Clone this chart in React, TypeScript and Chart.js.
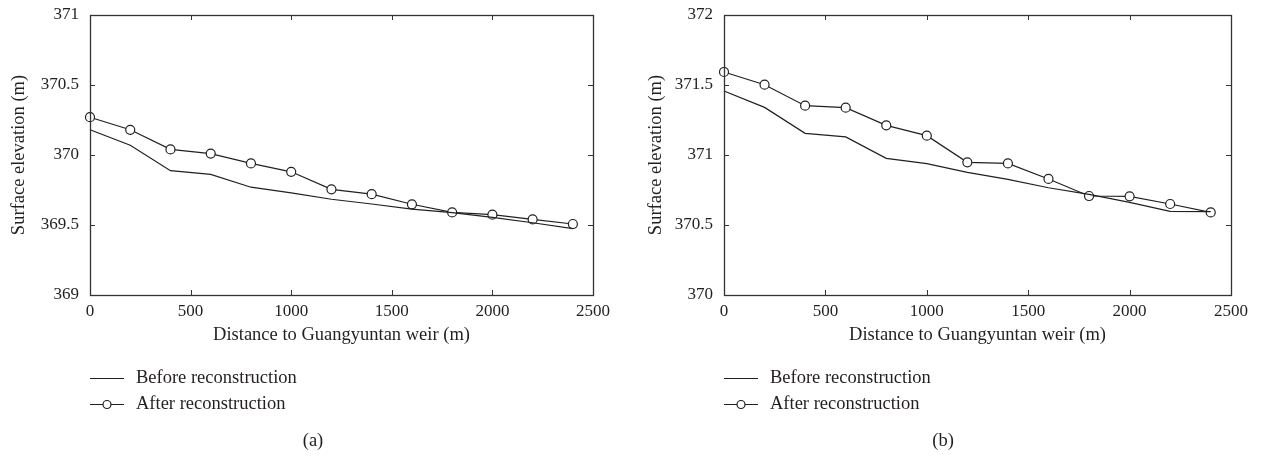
import React, { useEffect, useRef } from "react";
import { Chart, registerables } from "chart.js";

Chart.register(...registerables);

const distances = [0, 200, 400, 600, 800, 1000, 1200, 1400, 1600, 1800, 2000, 2200, 2400];

const beforeA = [370.18, 370.07, 369.888, 369.862, 369.77, 369.73, 369.684, 369.65, 369.614, 369.588, 369.555, 369.516, 369.474];
const afterA = [370.27, 370.18, 370.04, 370.01, 369.94, 369.88, 369.755, 369.72, 369.648, 369.59, 369.574, 369.54, 369.507];

const beforeB = [371.457, 371.34, 371.155, 371.129, 370.976, 370.938, 370.876, 370.826, 370.766, 370.719, 370.662, 370.598, 370.595];
const afterB = [371.593, 371.502, 371.352, 371.338, 371.212, 371.138, 370.948, 370.94, 370.829, 370.707, 370.705, 370.65, 370.59];

const xTicks = [0, 500, 1000, 1500, 2000, 2500];
const yTicksA = [369, 369.5, 370, 370.5, 371];
const yTicksB = [370, 370.5, 371, 371.5, 372];

const seriesLabels = ["Before reconstruction", "After reconstruction"];
const xTitle = "Distance to Guangyuntan weir (m)";
const yTitle = "Surface elevation (m)";

const INK = "#231f20";
const FONT = "'Liberation Serif', 'Times New Roman', serif";

const framePlugin = {
  id: "frame",
  afterDatasetsDraw(chart: any) {
    const { ctx, chartArea } = chart;
    const { left, right, top, bottom } = chartArea;
    const xs = chart.scales.x;
    const ys = chart.scales.y;
    const tl = 5;
    ctx.save();
    ctx.strokeStyle = "#333";
    ctx.lineWidth = 1;
    ctx.beginPath();
    xs.ticks.forEach((t: any) => {
      const px = Math.round(xs.getPixelForValue(t.value)) + 0.5;
      ctx.moveTo(px, bottom);
      ctx.lineTo(px, bottom - tl);
      ctx.moveTo(px, top);
      ctx.lineTo(px, top + tl);
    });
    ys.ticks.forEach((t: any) => {
      const py = Math.round(ys.getPixelForValue(t.value)) + 0.5;
      ctx.moveTo(left, py);
      ctx.lineTo(left + tl, py);
      ctx.moveTo(right, py);
      ctx.lineTo(right - tl, py);
    });
    ctx.stroke();
    ctx.lineWidth = 1.3;
    ctx.strokeRect(left + 0.5, top + 0.5, right - left, bottom - top);
    ctx.restore();
  },
  afterDraw(chart: any, _args: any, opts: any) {
    const { ctx } = chart;
    ctx.save();
    ctx.font = `18.5px ${FONT}`;
    ctx.fillStyle = INK;
    ctx.textBaseline = "middle";
    ctx.textAlign = "left";
    const ds = chart.data.datasets;
    ds.forEach((d: any, i: number) => {
      const y = opts.rowY[i];
      ctx.strokeStyle = d.borderColor;
      ctx.lineWidth = 1.2;
      ctx.beginPath();
      ctx.moveTo(opts.x0, y + 0.5);
      ctx.lineTo(opts.x0 + 34, y + 0.5);
      ctx.stroke();
      if (d.pointRadius > 0) {
        ctx.beginPath();
        ctx.fillStyle = "#fff";
        ctx.arc(opts.x0 + 17, y + 0.5, 4, 0, Math.PI * 2);
        ctx.fill();
        ctx.stroke();
        ctx.fillStyle = INK;
      }
      ctx.fillText(d.label, opts.x0 + 46, y);
    });
    ctx.textAlign = "center";
    ctx.fillText(opts.caption, opts.captionX, opts.captionY);
    ctx.restore();
  },
};

function makeConfig(before: number[], after: number[], yTicks: number[], yWidth: number, padRight: number, yTitlePad: number, legendX: number, caption: string): any {
  return {
    type: "line",
    data: {
      datasets: [
        {
          label: seriesLabels[0],
          data: distances.map((d, i) => ({ x: d, y: before[i] })),
          borderColor: INK,
          borderWidth: 1.2,
          pointRadius: 0,
          fill: false,
          tension: 0,
          clip: false,
        },
        {
          label: seriesLabels[1],
          data: distances.map((d, i) => ({ x: d, y: after[i] })),
          borderColor: INK,
          borderWidth: 1.2,
          pointRadius: 4.5,
          pointBorderWidth: 1.2,
          pointBackgroundColor: "#fff",
          pointBorderColor: INK,
          pointStyle: "circle",
          fill: false,
          tension: 0,
          clip: false,
        },
      ],
    },
    options: {
      animation: false,
      responsive: false,
      events: [],
      layout: { padding: { left: 0, right: padRight, top: 15, bottom: 0 } },
      plugins: {
        legend: { display: false },
        tooltip: { enabled: false },
        frame: { x0: legendX, rowY: [378, 404], caption, captionX: 313, captionY: 441 },
      },
      scales: {
        x: {
          type: "linear",
          min: xTicks[0],
          max: xTicks[xTicks.length - 1],
          afterBuildTicks: (s: any) => {
            s.ticks = xTicks.map((v) => ({ value: v }));
          },
          afterFit: (s: any) => {
            s.height = 163;
            s.paddingLeft = 0;
            s.paddingRight = 0;
          },
          grid: { display: false, drawTicks: false },
          border: { display: false },
          ticks: {
            color: INK,
            font: { family: FONT, size: 17 },
            padding: 6,
            maxRotation: 0,
            callback: (v: any) => String(v),
          },
          title: {
            display: true,
            text: xTitle,
            color: INK,
            font: { family: FONT, size: 18.5 },
            padding: { top: 0, bottom: 112 },
          },
        },
        y: {
          type: "linear",
          min: yTicks[0],
          max: yTicks[yTicks.length - 1],
          afterBuildTicks: (s: any) => {
            s.ticks = yTicks.map((v) => ({ value: v }));
          },
          afterFit: (s: any) => {
            s.width = yWidth;
            s.paddingTop = 0;
            s.paddingBottom = 0;
          },
          grid: { display: false, drawTicks: false },
          border: { display: false },
          ticks: {
            color: INK,
            font: { family: FONT, size: 17 },
            padding: 11,
            callback: (v: any) => String(v),
          },
          title: {
            display: true,
            text: yTitle,
            color: INK,
            font: { family: FONT, size: 18.5 },
            padding: { top: yTitlePad, bottom: 0 },
          },
        },
      },
    },
    plugins: [framePlugin],
  };
}

function Panel(props: { config: any; width: number; left: number }) {
  const ref = useRef<HTMLCanvasElement | null>(null);
  useEffect(() => {
    if (!ref.current) return;
    const chart = new Chart(ref.current, props.config);
    return () => chart.destroy();
  }, []);
  return (
    <canvas
      ref={ref}
      width={props.width}
      height={458}
      style={{ position: "absolute", left: props.left, top: 0, width: props.width, height: 458 }}
    />
  );
}

export default function App() {
  const cfgA = makeConfig(beforeA, afterA, yTicksA, 90, 37, 8, 90, "(a)");
  const cfgB = makeConfig(beforeB, afterB, yTicksB, 94, 30, 15, 94, "(b)");
  return (
    <div style={{ position: "absolute", left: 0, top: 0, width: 1261, height: 458, background: "#fff" }}>
      <Panel config={cfgA} width={630} left={0} />
      <Panel config={cfgB} width={631} left={630} />
    </div>
  );
}
